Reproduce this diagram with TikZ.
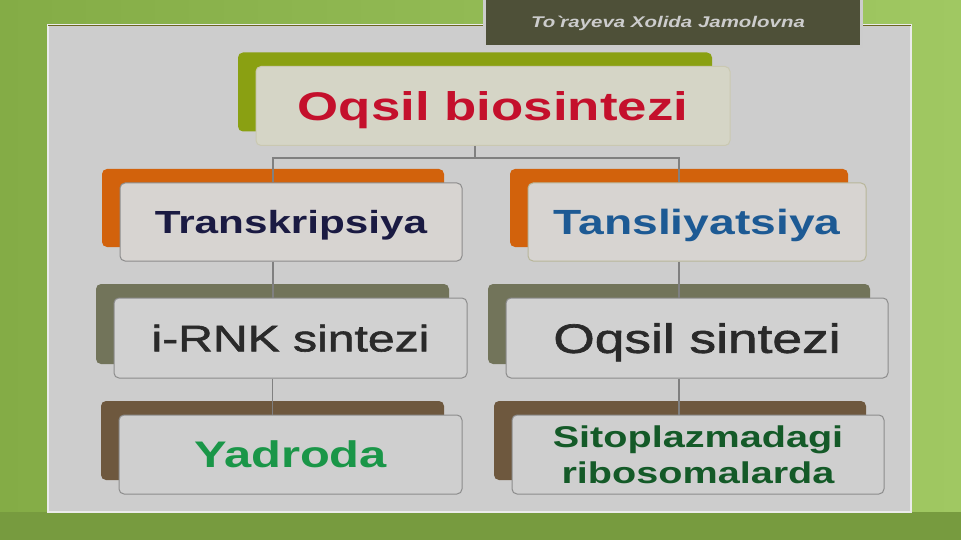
\documentclass[tikz,border=0pt]{standalone}
\usepackage{fontspec}
\setmainfont{Liberation Sans}[FakeStretch=1.32]
\newfontfamily\heavyfont{Liberation Sans}[FakeStretch=1.3, FakeBold=1.6]
\usetikzlibrary{shadows}

\definecolor{bgleft}{HTML}{84AC46}
\definecolor{bgright}{HTML}{A0C862}
\definecolor{panel}{HTML}{CDCDCD}
\definecolor{author}{HTML}{4E5038}
\definecolor{topfill}{HTML}{D5D5C6}
\definecolor{tabgreen}{HTML}{8AA012}
\definecolor{taborange}{HTML}{D2620C}
\definecolor{tabolive}{HTML}{72745A}
\definecolor{tabbrown}{HTML}{6E583E}
\definecolor{txtred}{HTML}{C4102C}
\definecolor{txtnavy}{HTML}{1A1A42}
\definecolor{txtblue}{HTML}{1D5A94}
\definecolor{txtgrey}{HTML}{2A2A2A}
\definecolor{txtgreen}{HTML}{1A9648}
\definecolor{txtdkgreen}{HTML}{145A28}

\begin{document}
\begin{tikzpicture}[x=1pt,y=-1pt,
  box/.style={draw=#1, line width=1pt, rounded corners=5pt, inner sep=0pt, align=center, text depth=0pt},
  tab/.style={copy shadow={shadow xshift=-18pt, shadow yshift=14pt, fill=#1, draw=none}},
  link/.style={draw=black!50, line width=1.2pt}]
\useasboundingbox (0,0) rectangle (961,540);
\clip (0,0) rectangle (961,540);

% background and panel
\shade[left color=bgleft, right color=bgright] (0,0) rectangle (961,540);
\fill[black!10!bgleft] (0,512) rectangle (961,540);
\draw[panel, fill=panel, line width=2pt, draw=black!8] (48,25) rectangle (911,512);
\draw[olive!70!black, line width=0.8pt] (48,25) -- (911,25);

% author
\node[draw=black!20, line width=3pt, fill=author, minimum width=377pt, minimum height=52pt,
  inner sep=0pt] (name) at (673,21) {};
\node[text=white!80!black, font=\fontsize{15.5}{17}\selectfont\bfseries\itshape] (nametext) at (668,23)
  {To\textasciigrave rayeva Xolida Jamolovna};

% boxes
\node[box=olive!40!black!30, fill=topfill, tab=tabgreen, minimum width=474pt, minimum height=79pt,
  text=txtred, font=\fontsize{40}{44}\selectfont\bfseries] (top) at (493,106) {Oqsil biosintezi};

\node[box=black!45, fill=orange!12!black!18, tab=taborange, minimum width=342pt, minimum height=78pt,
  text=txtnavy, font=\fontsize{32}{36}\selectfont\bfseries] (trans) at (291,222) {Transkripsiya};
\node[box=olive!40!black!40, fill=orange!12!black!18, tab=taborange, minimum width=338pt, minimum height=78pt,
  text=txtblue, font=\fontsize{35}{38}\selectfont\bfseries] (tansl) at (697,222) {Tansliyatsiya};

\node[box=black!45, fill=black!18, tab=tabolive, minimum width=353pt, minimum height=80pt,
  text=txtgrey, font=\fontsize{37}{42}\heavyfont] (irnk) at (290.5,338) {i-RNK sintezi};
\node[box=black!45, fill=black!18, tab=tabolive, minimum width=382pt, minimum height=80pt,
  text=txtgrey, font=\fontsize{41}{46}\heavyfont] (oqsil) at (697,338) {Oqsil sintezi};

\node[box=black!45, fill=black!19, tab=tabbrown, minimum width=343pt, minimum height=79pt,
  text=txtgreen, font=\fontsize{37}{40}\selectfont\bfseries] (yadro) at (290.5,454.5) {Yadroda};
\node[box=black!45, fill=black!19, tab=tabbrown, minimum width=372pt, minimum height=79pt,
  text=txtdkgreen, font=\fontsize{30}{36}\selectfont\bfseries] (sito) at (698,454.5)
  {Sitoplazmadagi\\ribosomalarda};

% connectors
\coordinate (split) at ([xshift=-18pt,yshift=-12pt]top.south);
\draw[link] ([xshift=-18pt]top.south) -- (split);
\draw[link] (split) -| ([xshift=-18pt]trans.north);
\draw[link] (split) -| ([xshift=-18pt]tansl.north);
\draw[link] ([xshift=-18pt]trans.south) -- ([xshift=-18pt]trans.south |- irnk.north);
\draw[link] ([xshift=-18pt]irnk.south) -- ([xshift=-18pt]irnk.south |- yadro.north);
\draw[link] ([xshift=-18pt]tansl.south) -- ([xshift=-18pt]tansl.south |- oqsil.north);
\draw[link] ([xshift=-18pt]oqsil.south) -- ([xshift=-18pt]oqsil.south |- sito.north);
\end{tikzpicture}
\end{document}
